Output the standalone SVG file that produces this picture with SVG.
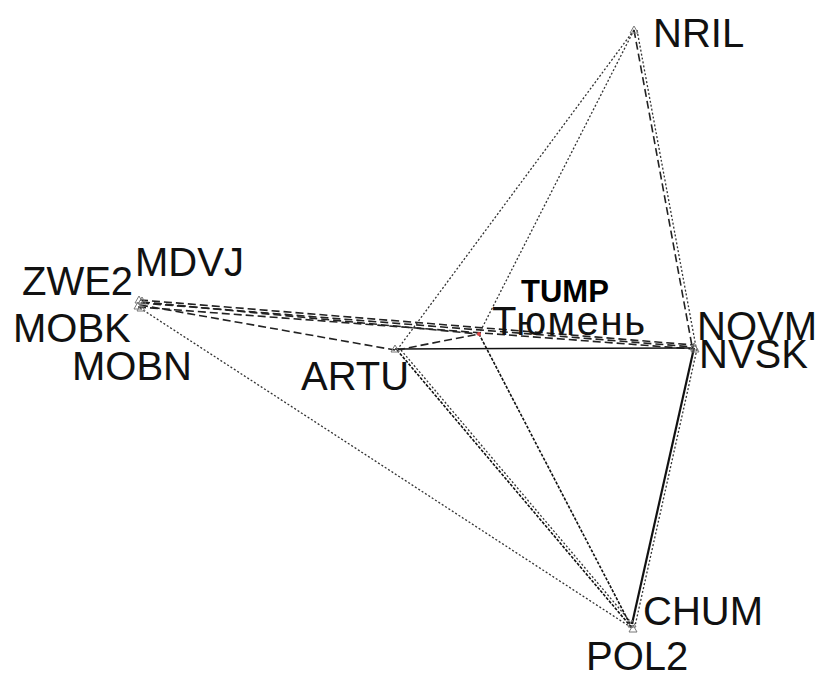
<svg xmlns="http://www.w3.org/2000/svg" width="825" height="675" viewBox="0 0 825 675">
<style>
.lbl{font-family:"Liberation Sans",Arial,sans-serif;font-size:40px;fill:#111}
.bold{font-family:"Liberation Sans",Arial,sans-serif;font-size:31px;font-weight:bold;fill:#000}
.dash{stroke:#222;stroke-width:1.6;fill:none;stroke-dasharray:8 4}
.dot{stroke:#333;stroke-width:1.3;fill:none;stroke-dasharray:2 2}
.dotd{stroke:#111;stroke-width:1.6;fill:none;stroke-dasharray:3 1.5}
.solid{stroke:#111;stroke-width:1.5;fill:none}
.thick{stroke:#111;stroke-width:2.2;fill:none}
.tri{fill:none;stroke:#777;stroke-width:1}
</style>
<rect width="825" height="675" fill="#fff"/>
<g id="connectors">
<line class="dash" x1="140" y1="300" x2="694" y2="345"/>
<line class="dash" x1="141" y1="303" x2="694" y2="347"/>
<line class="dash" x1="138" y1="307" x2="694" y2="349"/>
<line class="dash" x1="140" y1="305" x2="395" y2="350"/>
<line class="dash" x1="142" y1="302" x2="479" y2="334"/>
<line class="dot" x1="140" y1="308" x2="632" y2="628"/>
<line class="dot" x1="634" y1="30" x2="397" y2="350"/>
<line class="dot" x1="634" y1="30" x2="479" y2="334"/>
<line class="dash" x1="634" y1="30" x2="692" y2="346"/>
<line class="dot" x1="637" y1="30" x2="696" y2="347"/>
<line class="solid" x1="395" y1="349" x2="694" y2="348"/>
<line class="dash" x1="397" y1="350" x2="479" y2="334"/>
<line class="dotd" x1="397" y1="350" x2="632" y2="628"/>
<line class="dot" x1="401" y1="350" x2="634" y2="626"/>
<line class="dotd" x1="479" y1="334" x2="632" y2="628"/>
<line class="thick" x1="694" y1="348" x2="632" y2="624"/>
<line class="dot" x1="697" y1="349" x2="635" y2="626"/>
</g>
<g id="node-NRIL"><path class="tri" d="M634 26 L638 33 L630 33 Z"/><text class="lbl" x="653" y="47">NRIL</text></g>
<g id="node-MDVJ"><path class="tri" d="M142 297 L146 304 L138 304 Z"/><text class="lbl" x="135" y="276">MDVJ</text></g>
<g id="node-ZWE2"><path class="tri" d="M139 296 L143 303 L135 303 Z"/><text class="lbl" x="22" y="295">ZWE2</text></g>
<g id="node-MOBK"><path class="tri" d="M138 302 L142 309 L134 309 Z"/><text class="lbl" x="13" y="342">MOBK</text></g>
<g id="node-MOBN"><path class="tri" d="M141 304 L145 311 L137 311 Z"/><text class="lbl" x="72" y="380">MOBN</text></g>
<g id="node-ARTU"><path class="tri" d="M395 345 L399 352 L391 352 Z"/><text class="lbl" x="301" y="390">ARTU</text></g>
<g id="node-TUMP"><circle cx="479" cy="334" r="2" fill="#d44"/><text class="bold" x="521" y="302">TUMP</text><text class="lbl" x="492" y="335" textLength="153">Тюмень</text></g>
<g id="node-NOVM"><path class="tri" d="M694 343 L698 350 L690 350 Z"/><text class="lbl" x="697" y="340">NOVM</text></g>
<g id="node-NVSK"><path class="tri" d="M695 345 L699 352 L691 352 Z"/><text class="lbl" x="699" y="368">NVSK</text></g>
<g id="node-CHUM"><path class="tri" d="M632 620 L636 627 L628 627 Z"/><text class="lbl" x="643" y="625">CHUM</text></g>
<g id="node-POL2"><path class="tri" d="M633 625 L637 632 L629 632 Z"/><text class="lbl" x="586" y="670">POL2</text></g>
</svg>
